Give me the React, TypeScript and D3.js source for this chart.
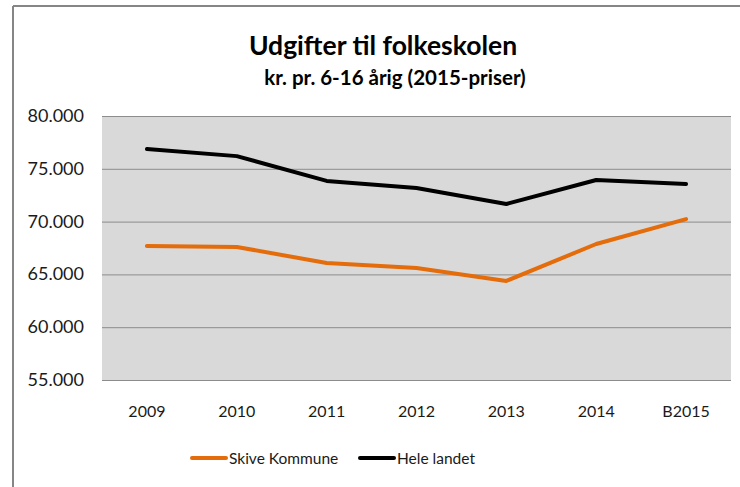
import React, { useEffect, useRef } from 'react';
import * as d3 from 'd3';

const years = ['2009', '2010', '2011', '2012', '2013', '2014', 'B2015'];
const skive = [67700, 67600, 66080, 65600, 64380, 67880, 70240];
const heleLandet = [76870, 76200, 73850, 73180, 71670, 73940, 73560];
const yTicks = [55000, 60000, 65000, 70000, 75000, 80000];

const W = 740;
const H = 487;
const FONT = 'Lato, "Open Sans", sans-serif';

const App = () => {
  const ref = useRef<SVGSVGElement>(null);

  useEffect(() => {
    const svg = d3.select(ref.current);
    svg.selectAll('*').remove();

    const plot = { left: 102, top: 116, right: 731, bottom: 380 };

    // frame (only top and left edges are visible in the crop)
    svg.append('line')
      .attr('x1', 13).attr('x2', W).attr('y1', 6).attr('y2', 6)
      .style('stroke', '#868686').style('stroke-width', 2);
    svg.append('line')
      .attr('x1', 13).attr('x2', 13).attr('y1', 6).attr('y2', H)
      .style('stroke', '#868686').style('stroke-width', 2);

    // title
    svg.append('text')
      .attr('x', 383).attr('y', 55)
      .text('Udgifter til folkeskolen')
      .style('text-anchor', 'middle')
      .style('font-family', FONT)
      .style('font-weight', 700)
      .style('font-size', '26.5px')
      .style('fill', '#000');
    svg.append('text')
      .attr('x', 395).attr('y', 85)
      .text('kr. pr. 6-16 årig (2015-priser)')
      .style('text-anchor', 'middle')
      .style('font-family', FONT)
      .style('font-weight', 700)
      .style('font-size', '20.5px')
      .style('fill', '#000');

    const x = d3.scaleBand<string>()
      .domain(years)
      .range([plot.left, plot.right]);
    const y = d3.scaleLinear()
      .domain([55000, 80000])
      .range([plot.bottom, plot.top]);
    const cx = (d: string) => (x(d) as number) + x.bandwidth() / 2;

    // plot background
    svg.append('rect')
      .attr('x', plot.left).attr('y', plot.top)
      .attr('width', plot.right - plot.left)
      .attr('height', plot.bottom - plot.top)
      .style('fill', '#d9d9d9');

    // gridlines
    svg.append('g').selectAll('line')
      .data(yTicks)
      .enter()
      .append('line')
      .attr('x1', plot.left).attr('x2', plot.right)
      .attr('y1', (d) => y(d) + 0.5).attr('y2', (d) => y(d) + 0.5)
      .style('stroke', '#8c8c8c').style('stroke-width', 1);

    // y labels
    const fmt = (v: number) => d3.format(',')(v).replace(/,/g, '.');
    svg.append('g').selectAll('text')
      .data(yTicks)
      .enter()
      .append('text')
      .attr('x', 84)
      .attr('y', (d) => y(d) + 6)
      .text(fmt)
      .style('text-anchor', 'end')
      .style('font-family', FONT)
      .style('font-size', '18px')
      .style('fill', '#1a1a1a');

    // x labels
    svg.append('g').selectAll('text')
      .data(years)
      .enter()
      .append('text')
      .attr('x', cx)
      .attr('y', 417)
      .text((d) => d)
      .style('text-anchor', 'middle')
      .style('font-family', FONT)
      .style('font-size', '16px')
      .style('fill', '#1a1a1a');

    const line = d3.line<number>()
      .x((d, i) => cx(years[i]))
      .y((d) => y(d));

    const series = [
      { name: 'Skive Kommune', values: skive, color: '#e46c0a' },
      { name: 'Hele landet', values: heleLandet, color: '#000000' },
    ];

    series.forEach((s) => {
      svg.append('path')
        .datum(s.values)
        .attr('d', line)
        .style('fill', 'none')
        .style('stroke', s.color)
        .style('stroke-width', 4)
        .style('stroke-linejoin', 'round')
        .style('stroke-linecap', 'round');
    });

    // legend
    const legendX = [192, 360];
    series.forEach((s, i) => {
      const g = svg.append('g').attr('transform', `translate(${legendX[i]}, 458)`);
      g.append('line')
        .attr('x1', 0).attr('x2', 34).attr('y1', 0).attr('y2', 0)
        .style('stroke', s.color).style('stroke-width', 4)
        .style('stroke-linecap', 'round');
      g.append('text')
        .attr('x', 37).attr('y', 6)
        .text(s.name)
        .style('font-family', FONT)
        .style('font-size', '15.5px')
        .style('fill', '#1a1a1a');
    });
  }, []);

  return (
    <svg
      ref={ref}
      width={W}
      height={H}
      style={{ position: 'absolute', left: 0, top: 0, background: '#fff' }}
    />
  );
};

export default App;
